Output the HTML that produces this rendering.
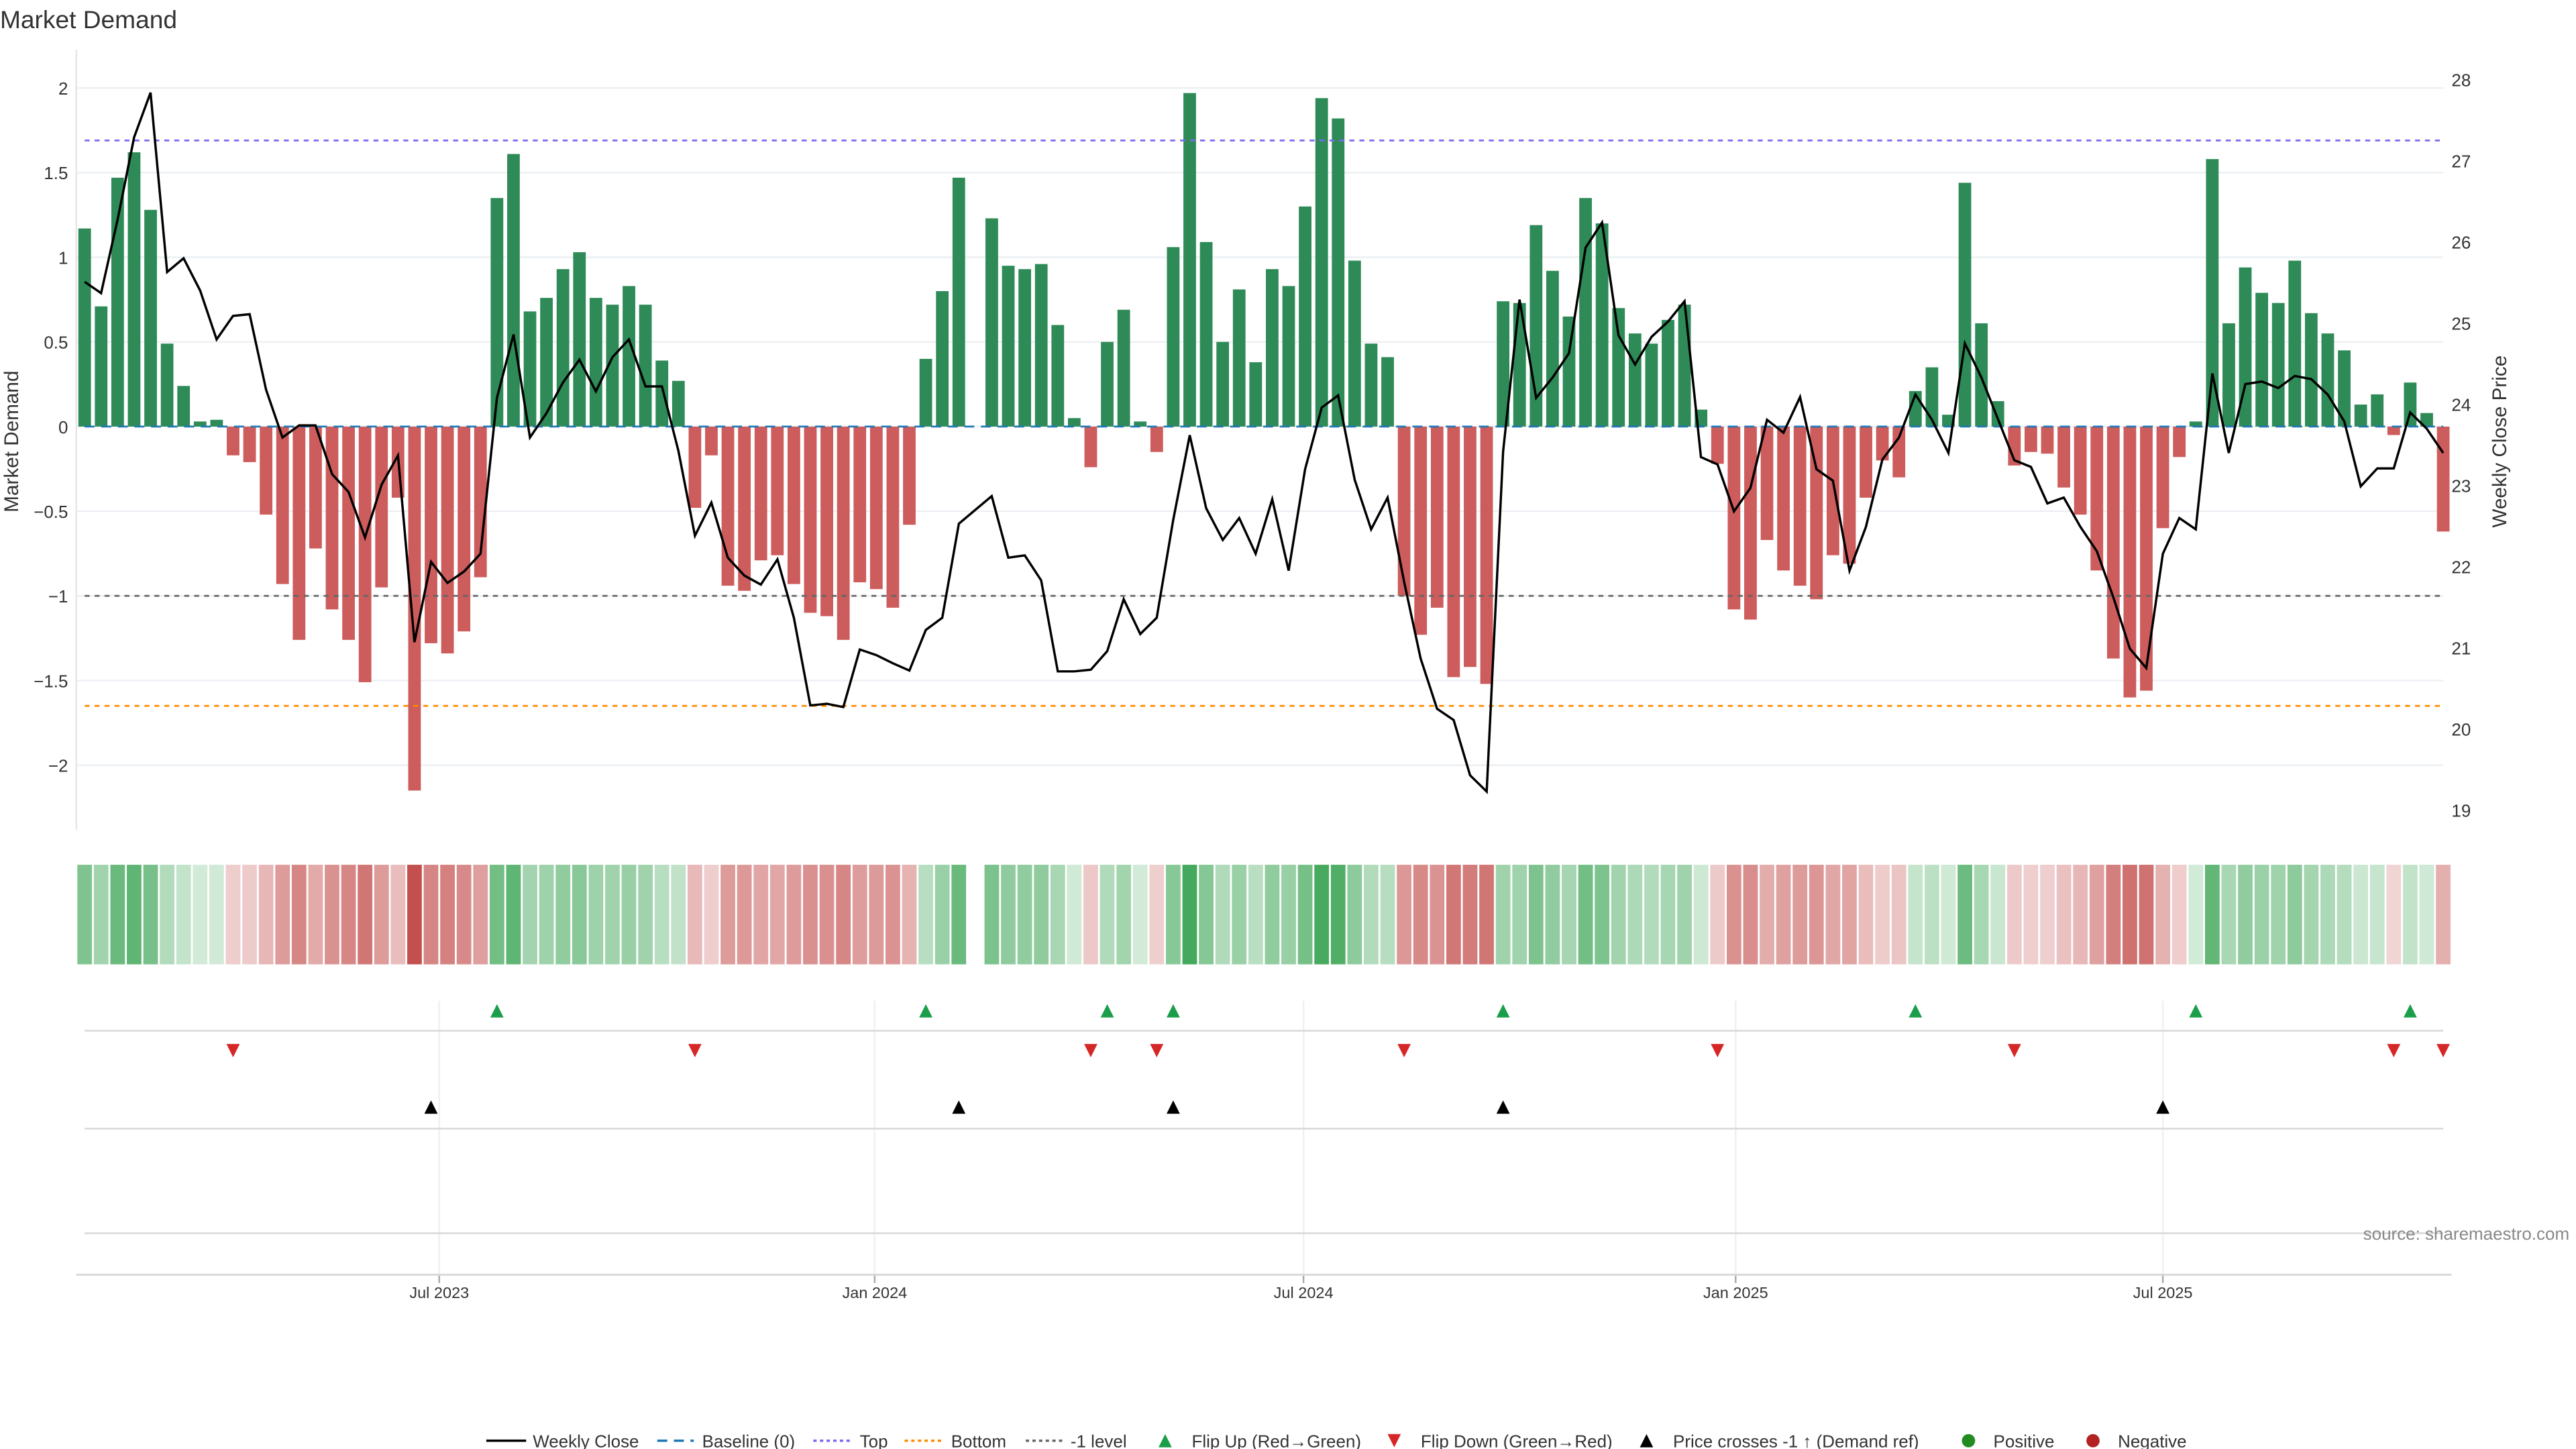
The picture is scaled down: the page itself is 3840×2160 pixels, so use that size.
<!DOCTYPE html>
<html><head><meta charset="utf-8"><title>Market Demand</title>
<style>
html,body{margin:0;padding:0;background:#fff;}
svg{display:block;font-family:"Liberation Sans","DejaVu Sans",sans-serif;}
</style></head>
<body>
<svg id="chart" width="3840" height="2160" viewBox="0 0 1552 873" xmlns="http://www.w3.org/2000/svg">
<text x="0" y="17" font-size="15" fill="#333">Market Demand</text>
<g id="grid"></g>
<g id="bars"></g>
<g id="refs"></g>
<g id="price"></g>
<g id="heat"></g>
<g id="markers"></g>
<g id="axes"></g>
<g id="legend"></g>
<text x="1548" y="747" font-size="10.5" fill="#888" text-anchor="end">source: sharemaestro.com</text>
</svg>
<script>
const demand = [1.17,0.71,1.47,1.62,1.28,0.49,0.24,0.03,0.04,-0.17,-0.21,-0.52,-0.93,-1.26,-0.72,-1.08,-1.26,-1.51,-0.95,-0.42,-2.15,-1.28,-1.34,-1.21,-0.89,1.35,1.61,0.68,0.76,0.93,1.03,0.76,0.72,0.83,0.72,0.39,0.27,-0.48,-0.17,-0.94,-0.97,-0.79,-0.76,-0.93,-1.10,-1.12,-1.26,-0.92,-0.96,-1.07,-0.58,0.40,0.80,1.47,null,1.23,0.95,0.93,0.96,0.60,0.05,-0.24,0.50,0.69,0.03,-0.15,1.06,1.97,1.09,0.50,0.81,0.38,0.93,0.83,1.30,1.94,1.82,0.98,0.49,0.41,-1.00,-1.23,-1.07,-1.48,-1.42,-1.52,0.74,0.73,1.19,0.92,0.65,1.35,1.20,0.70,0.55,0.49,0.63,0.72,0.10,-0.22,-1.08,-1.14,-0.67,-0.85,-0.94,-1.02,-0.76,-0.81,-0.42,-0.20,-0.30,0.21,0.35,0.07,1.44,0.61,0.15,-0.23,-0.15,-0.16,-0.36,-0.52,-0.85,-1.37,-1.60,-1.56,-0.60,-0.18,0.03,1.58,0.61,0.94,0.79,0.73,0.98,0.67,0.55,0.45,0.13,0.19,-0.05,0.26,0.08,-0.62];
const price = [25.51,25.37,26.28,27.29,27.84,25.63,25.80,25.40,24.80,25.09,25.11,24.18,23.59,23.74,23.74,23.14,22.92,22.36,23.01,23.37,21.07,22.06,21.80,21.94,22.16,24.08,24.86,23.59,23.89,24.27,24.55,24.16,24.58,24.80,24.22,24.22,23.43,22.38,22.79,22.11,21.89,21.78,22.09,21.37,20.29,20.31,20.27,20.98,20.91,20.81,20.72,21.22,21.37,22.53,22.70,22.87,22.11,22.14,21.83,20.71,20.71,20.73,20.96,21.60,21.17,21.37,22.57,23.62,22.72,22.33,22.60,22.16,22.83,21.95,23.20,23.96,24.11,23.07,22.46,22.85,21.81,20.87,20.25,20.11,19.43,19.23,23.42,25.29,24.08,24.33,24.63,25.93,26.24,24.85,24.49,24.83,25.02,25.27,23.35,23.26,22.68,22.97,23.81,23.65,24.09,23.20,23.06,21.95,22.49,23.32,23.59,24.12,23.81,23.40,24.75,24.33,23.82,23.31,23.23,22.78,22.85,22.49,22.19,21.62,20.99,20.75,22.16,22.60,22.46,24.38,23.40,24.25,24.28,24.20,24.35,24.31,24.12,23.79,22.99,23.21,23.21,23.90,23.70,23.40];
const priceCrossIdx = [21,53,66,86,126];
const leftTicks = [2,1.5,1,0.5,0,-0.5,-1,-1.5,-2];
const leftTickLabels = ["2","1.5","1","0.5","0","−0.5","−1","−1.5","−2"];
const rightTicks = [28,27,26,25,24,23,22,21,20,19];
const topLevel = 1.69, bottomLevel = -1.65, minusOneLevel = -1;
const dateLabels = ["Jul 2023","Jan 2024","Jul 2024","Jan 2025","Jul 2025"];
const dateIdx = [21.5,47.9,73.9,100.1,126]; // week index positions of date ticks

const NS="http://www.w3.org/2000/svg";
function mk(parent,tag,attrs){const e=document.createElementNS(NS,tag);for(const k in attrs)e.setAttribute(k,attrs[k]);parent.appendChild(e);return e;}
const X0=51, XN=1472, n=demand.length;
const step=(XN-X0)/(n-1);
const xs=i=>X0+i*step;
const yL=v=>257-102*v;
const yR=p=>48+(28-p)*48.9;
const PL=46, PR=1472;

const grid=document.getElementById('grid');
const axes=document.getElementById('axes');
leftTicks.forEach((t,k)=>{
  const g=mk(grid,'line',{x1:PL,x2:PR,y1:yL(t),y2:yL(t),stroke:'#eceff3','stroke-width':1});
  
  
  const tx=mk(axes,'text',{x:41,y:yL(t)+4,'font-size':10.5,fill:'#333','text-anchor':'end'});
  tx.textContent=leftTickLabels[k];
  
  
});
rightTicks.forEach(t=>{
  const tx=mk(axes,'text',{x:1477,y:yR(t)+4,'font-size':10.5,fill:'#333'});
  tx.textContent=t;
  
  
});
let a=mk(axes,'line',{x1:46,x2:46,y1:30,y2:500,stroke:'#e6e6e6','stroke-width':1});


let yt=mk(axes,'text',{x:11,y:266,'font-size':12,fill:'#333','text-anchor':'middle',transform:'rotate(-90 11 266)'});
yt.textContent='Market Demand';


let yt2=mk(axes,'text',{x:1510,y:266,'font-size':12,fill:'#333','text-anchor':'middle',transform:'rotate(-90 1510 266)'});
yt2.textContent='Weekly Close Price';



// bars
const bars=document.getElementById('bars');
demand.forEach((v,i)=>{
  if(v===null)return;
  const y0=yL(0), y1=yL(v);
  const r=mk(bars,'rect',{x:xs(i)-3.8,width:7.6,y:Math.min(y0,y1),height:Math.abs(y1-y0),fill:v>=0?'#2e8b57':'#cd5c5c'});
  
  
});
// reference lines
const refs=document.getElementById('refs');
[[0,'#1f77b4','6,4','baseline-line'],[topLevel,'#7b68ee','3,3','top-level-line'],[bottomLevel,'#ff8c00','3,3','bottom-level-line'],[minusOneLevel,'#666','3,3','minus-one-level-line']].forEach(d=>{
  const l=mk(refs,'line',{x1:X0,x2:XN,y1:yL(d[0]),y2:yL(d[0]),stroke:d[1],'stroke-width':1.1,'stroke-dasharray':d[2]});
  
  
});
// price line
const pts=price.map((p,i)=>xs(i).toFixed(1)+','+yR(p).toFixed(1)).join(' ');
const pl=mk(document.getElementById('price'),'polyline',{points:pts,fill:'none',stroke:'#000','stroke-width':1.4,'stroke-linejoin':'miter'});



// heatmap
const heat=document.getElementById('heat');
function mix(c,t){return 'rgb('+c.map(v=>Math.round(255+(v-255)*t)).join(',')+')';}
demand.forEach((v,i)=>{
  if(v===null)return;
  const t=0.22+0.78*Math.min(1,Math.abs(v)/2.1);
  const c=v>=0?mix([60,165,85],t):mix([195,80,78],t);
  const r=mk(heat,'rect',{x:xs(i)-4.4,width:8.8,y:521,height:60,fill:c});
  
  
});

// markers
const mks=document.getElementById('markers');
dateIdx.forEach((d,k)=>{
  const x=xs(d);
  const g=mk(mks,'line',{x1:x,x2:x,y1:603,y2:768,stroke:'#eef0f2','stroke-width':1});
  
  
  const tk=mk(axes,'line',{x1:x,x2:x,y1:768,y2:773,stroke:'#aaa','stroke-width':1});
  
  
  const tx=mk(axes,'text',{x:x,y:782,'font-size':9.5,fill:'#333','text-anchor':'middle'});
  tx.textContent=dateLabels[k];
  
  
});
[621,680,743].forEach(y=>{
  const l=mk(mks,'line',{x1:51,x2:1472,y1:y,y2:y,stroke:'#d8d8d8','stroke-width':1});
  
  
});
let xa=mk(axes,'line',{x1:46,x2:1477,y1:768,y2:768,stroke:'#d8d8d8','stroke-width':1.2});


function tri(x,y,up,color,name){
  const p=up?`${x-4},${y+4} ${x+4},${y+4} ${x},${y-4}`:`${x-4},${y-4} ${x+4},${y-4} ${x},${y+4}`;
  const t=mk(mks,'polygon',{points:p,fill:color});
  
  
}
for(let i=1;i<n;i++){
  const a=demand[i-1], b=demand[i];
  if(a===null||b===null)continue;
  if(a<0&&b>=0)tri(xs(i),609,true,'#1a9e4a','flip-up-marker');
  if(a>=0&&b<0)tri(xs(i),633,false,'#d62728','flip-down-marker');
}
priceCrossIdx.forEach(i=>tri(xs(i),667,true,'#000','price-cross-marker'));

// legend
const lg=document.getElementById('legend');
const LY=868;
function ltext(x,s){const t=mk(lg,'text',{x:x,y:LY+4,'font-size':10.5,fill:'#333'});t.textContent=s;}
function lline(x1,x2,c,dash,w,name){const l=mk(lg,'line',{x1:x1,x2:x2,y1:LY,y2:LY,stroke:c,'stroke-width':w,'stroke-dasharray':dash});}
lline(293,317,'#000','none',1.4,'legend-weekly-close');ltext(321,'Weekly Close');
lline(396,418,'#1f77b4','6,4',1.4,'legend-baseline');ltext(423,'Baseline (0)');
lline(490,512,'#7b68ee','2,2',1.4,'legend-top');ltext(518,'Top');
lline(545,567,'#ff8c00','2,2',1.4,'legend-bottom');ltext(573,'Bottom');
lline(618,640,'#666','2,2',1.4,'legend-minus-one');ltext(645,'-1 level');
tri(702,LY,true,'#1a9e4a','legend-flip-up');ltext(718,'Flip Up (Red→Green)');
tri(840,LY,false,'#d62728','legend-flip-down');ltext(856,'Flip Down (Green→Red)');
tri(992,LY,true,'#000','legend-price-cross');ltext(1008,'Price crosses -1 ↑ (Demand ref)');
let c1=mk(lg,'circle',{cx:1186,cy:LY,r:4,fill:'#228b22'});ltext(1201,'Positive');
let c2=mk(lg,'circle',{cx:1261,cy:LY,r:4,fill:'#b22222'});ltext(1276,'Negative');
</script>
</body></html>
